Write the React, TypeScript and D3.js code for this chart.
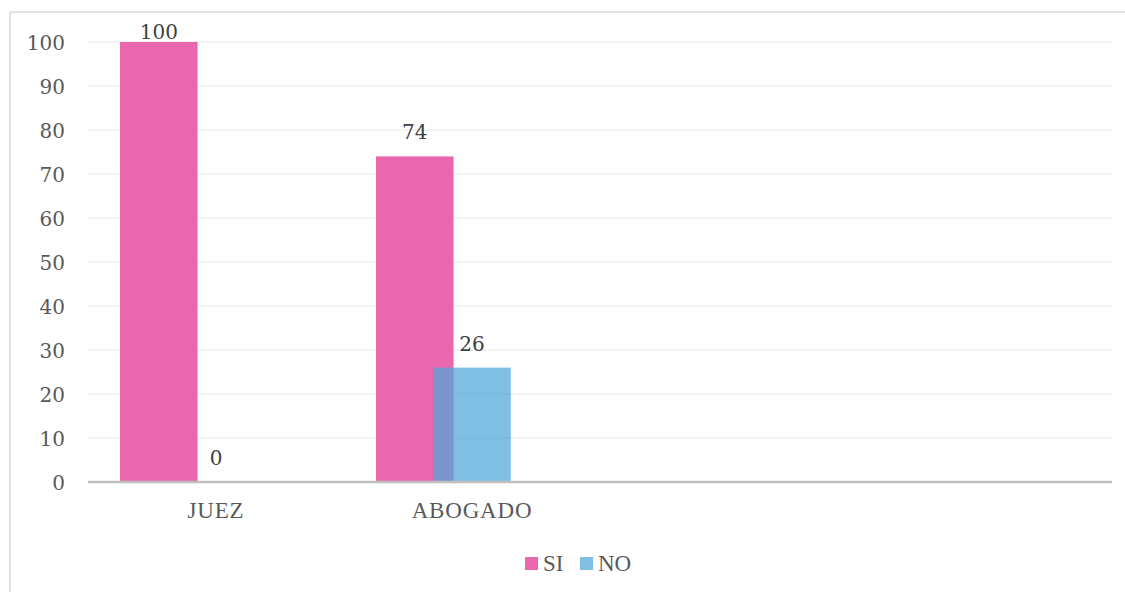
import React from "react";
import * as d3 from "d3";

// Survey answers per respondent group (percent)
const categories = ["JUEZ", "ABOGADO", "", ""];
const siValues: (number | null)[] = [100, 74, null, null];
const noValues: (number | null)[] = [0, 26, null, null];
const yTicks = [0, 10, 20, 30, 40, 50, 60, 70, 80, 90, 100];
const seriesNames = ["SI", "NO"];

const W = 1125;
const H = 592;
const SI_COLOR = "#ea67ad";
const NO_COLOR = "rgb(79,166,218)";
const NUM_FONT = "'DejaVu Serif', serif";
const TXT_FONT = "'Liberation Serif', 'Times New Roman', serif";

export default function App() {
  const x = d3
    .scaleBand<number>()
    .domain(d3.range(categories.length))
    .range([88, 1112])
    .paddingInner(0)
    .paddingOuter(0);
  const y = d3.scaleLinear().domain([0, 100]).range([482, 42]);
  const step = x.step();
  const barW = step * 0.303;
  const siOffset = step * 0.125;
  const noOffset = step * 0.3485;

  const labelY = (v: number) => Math.max(y(v) - 17, 39);

  return (
    <svg
      width={W}
      height={H}
      style={{ position: "absolute", left: 0, top: 0, background: "#fff" }}
    >
      {/* chart frame */}
      <line x1={10} x2={W} y1={12} y2={12} stroke="#d9d9d9" strokeWidth={1.5} />
      <line x1={10} x2={10} y1={12} y2={H} stroke="#d9d9d9" strokeWidth={1.5} />

      {/* gridlines */}
      {yTicks.map((t) =>
        t === 0 ? null : (
          <line
            key={`g${t}`}
            x1={88}
            x2={1112}
            y1={y(t)}
            y2={y(t)}
            stroke="#efefef"
            strokeWidth={1.5}
          />
        )
      )}

      {/* y tick labels */}
      {yTicks.map((t) => (
        <text
          key={`t${t}`}
          x={65}
          y={y(t) + 8}
          textAnchor="end"
          fontFamily={NUM_FONT}
          fontSize={20}
          fill="#595959"
        >
          {t}
        </text>
      ))}

      {/* bars: SI */}
      {siValues.map((v, i) =>
        v == null ? null : (
          <rect
            key={`si${i}`}
            x={(x(i) as number) + siOffset}
            y={y(v)}
            width={barW}
            height={y(0) - y(v)}
            fill={SI_COLOR}
          />
        )
      )}
      {/* bars: NO */}
      {noValues.map((v, i) =>
        v == null ? null : (
          <rect
            key={`no${i}`}
            x={(x(i) as number) + noOffset}
            y={y(v)}
            width={barW}
            height={y(0) - y(v)}
            fill={NO_COLOR}
            fillOpacity={0.72}
          />
        )
      )}

      {/* x axis */}
      <line x1={88} x2={1112} y1={y(0)} y2={y(0)} stroke="#bfbfbf" strokeWidth={2.5} />

      {/* value labels */}
      {siValues.map((v, i) =>
        v == null ? null : (
          <text
            key={`ls${i}`}
            x={(x(i) as number) + siOffset + barW / 2}
            y={labelY(v)}
            textAnchor="middle"
            fontFamily={NUM_FONT}
            fontSize={20}
            fill="#404040"
          >
            {v}
          </text>
        )
      )}
      {noValues.map((v, i) =>
        v == null ? null : (
          <text
            key={`ln${i}`}
            x={(x(i) as number) + noOffset + barW / 2}
            y={labelY(v)}
            textAnchor="middle"
            fontFamily={NUM_FONT}
            fontSize={20}
            fill="#404040"
          >
            {v}
          </text>
        )
      )}

      {/* category labels */}
      {categories.map((c, i) => (
        <text
          key={`c${i}`}
          x={(x(i) as number) + step / 2}
          y={518}
          textAnchor="middle"
          fontFamily={TXT_FONT}
          fontSize={23}
          letterSpacing={0.8}
          fill="#595959"
        >
          {c}
        </text>
      ))}

      {/* legend */}
      <g>
        <rect x={525} y={557} width={13} height={13} fill={SI_COLOR} />
        <text x={543} y={570.5} fontFamily={TXT_FONT} fontSize={23} fill="#595959">
          {seriesNames[0]}
        </text>
        <rect x={580} y={557} width={13} height={13} fill={NO_COLOR} fillOpacity={0.72} />
        <text x={598} y={570.5} fontFamily={TXT_FONT} fontSize={23} fill="#595959">
          {seriesNames[1]}
        </text>
      </g>
    </svg>
  );
}
